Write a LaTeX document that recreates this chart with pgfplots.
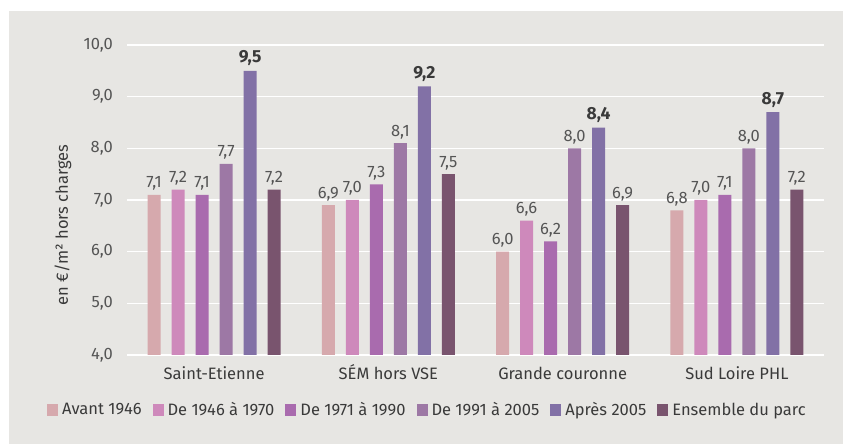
\documentclass[border=0pt]{standalone}
\usepackage{pgfplots}
\pgfplotsset{compat=1.18}
\usepackage{fontspec}
\setmainfont{Fira Sans}
\definecolor{bg}{HTML}{E7E6E3}
\definecolor{c1}{HTML}{D6A9AD}
\definecolor{c2}{HTML}{CE89BB}
\definecolor{c3}{HTML}{A96BAE}
\definecolor{c4}{HTML}{9D78A5}
\definecolor{c5}{HTML}{8271A6}
\definecolor{c6}{HTML}{79546E}
\definecolor{tk}{HTML}{555555}
\definecolor{dk}{HTML}{3A3A3A}
\newcommand\fs{\fontsize{16.5bp}{19bp}\selectfont}
\pgfkeys{/pgf/number format/myfmt/.style={/pgf/number format/fixed, /pgf/number format/fixed zerofill, /pgf/number format/precision=1, /pgf/number format/use comma, /pgf/number format/assume math mode=true}}
\begin{document}
\begin{tikzpicture}[x=1bp,y=1bp]
\useasboundingbox (0,0) rectangle (843,444);
\fill[bg] (9,0) rectangle (843,433);
\begin{axis}[
  at={(127bp,89bp)}, anchor=south west,
  scale only axis, width=697bp, height=310bp,
  xmin=-0.5, xmax=3.5, ymin=4, ymax=10,
  axis line style={draw=none},
  ytick={4,5,...,10}, ymajorgrids, grid style={white, line width=1.6bp},
  major tick length=0,
  xtick={0,1,2,3},
  xticklabels={Saint-Etienne, SÉM hors VSE, Grande couronne, Sud Loire PHL},
  xticklabel style={font=\fs, text=dk, anchor=base, inner sep=0, yshift=-25bp},
  yticklabel style={font=\fs, text=tk, anchor=east, inner sep=0, xshift=-14bp,
    /pgf/number format/myfmt},
  ylabel={en €/m² hors charges},
  every axis y label/.style={at={(axis description cs:-0.092,0.42)}, rotate=90, anchor=center, font=\fs, text=dk},
  ybar=11bp, bar width=13bp,
  nodes near coords,
  every node near coord/.append style={font=\fs, text=tk, anchor=base, inner sep=0, yshift=7bp,
    /pgf/number format/myfmt},
  legend style={at={(axis description cs:0.431,-0.177)}, anchor=center, legend columns=6, draw=none, fill=none,
    font=\fs, text=dk, inner xsep=0pt,
    /tikz/every odd column/.append style={column sep=2bp},
    /tikz/every even column/.append style={column sep=9bp}},
  legend image code/.code={\fill[#1, draw=none] (0bp,-6bp) rectangle (11bp,6bp);},
]
\addplot[fill=c1, draw=none] coordinates {(0,7.1) (1,6.9) (2,6.0) (3,6.8)};
\addplot[fill=c2, draw=none] coordinates {(0,7.2) (1,7.0) (2,6.6) (3,7.0)};
\addplot[fill=c3, draw=none] coordinates {(0,7.1) (1,7.3) (2,6.2) (3,7.1)};
\addplot[fill=c4, draw=none] coordinates {(0,7.7) (1,8.1) (2,8.0) (3,8.0)};
\addplot[fill=c5, draw=none, every node near coord/.append style={font=\fontsize{17.5bp}{20bp}\selectfont\bfseries, text=dk, yshift=1bp}] coordinates {(0,9.5) (1,9.2) (2,8.4) (3,8.7)};
\addplot[fill=c6, draw=none] coordinates {(0,7.2) (1,7.5) (2,6.9) (3,7.2)};
\legend{Avant 1946, De 1946 à 1970, De 1971 à 1990, De 1991 à 2005, Après 2005, Ensemble du parc}
\end{axis}
\end{tikzpicture}
\end{document}
